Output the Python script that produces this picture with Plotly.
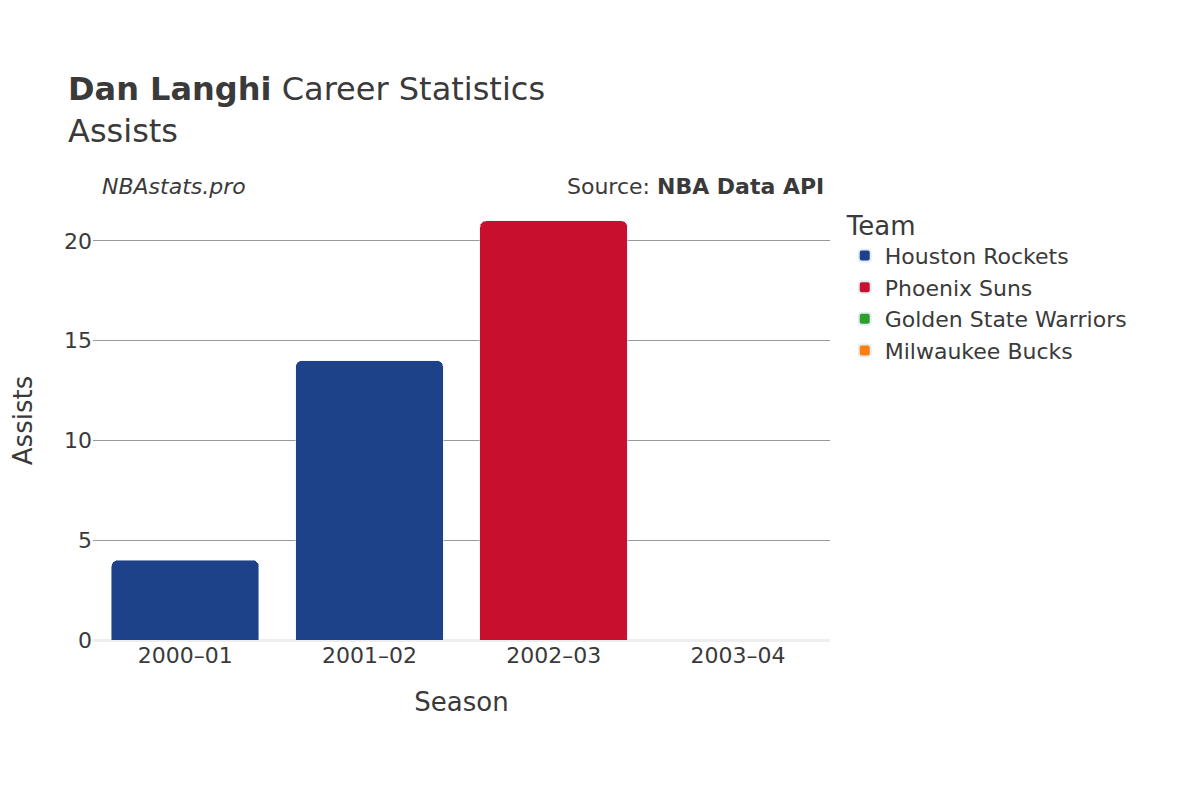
import plotly.graph_objects as go

seasons = ["2000–01", "2001–02", "2002–03", "2003–04"]
teams = ["Houston Rockets", "Phoenix Suns", "Golden State Warriors", "Milwaukee Bucks"]
colors = ["#1d428a", "#c8102e", "#2ca02c", "#ff7f0e"]
values = {
    "Houston Rockets": [4, 14, None, None],
    "Phoenix Suns": [None, None, 21, None],
    "Golden State Warriors": [None, None, None, 0],
    "Milwaukee Bucks": [None, None, None, 0],
}

fig = go.Figure()
for t, c in zip(teams, colors):
    fig.add_trace(go.Bar(x=seasons, y=values[t], name=t, marker_color=c))

fig.update_layout(
    width=1200, height=800, barmode="stack", barcornerradius=6, bargap=0.2,
    plot_bgcolor="white", paper_bgcolor="white",
    font=dict(family="DejaVu Sans", color="#3a3a3a", size=22),
    margin=dict(l=85, r=378, t=193, b=168),
    title=dict(text="<b>Dan Langhi</b> Career Statistics<br>Assists", x=0.05, xanchor="left",
               y=0.885, yanchor="bottom", font=dict(size=32)),
    xaxis=dict(title=dict(text="Season", font=dict(size=26), standoff=25), showgrid=False,
               tickfont=dict(size=22)),
    yaxis=dict(title=dict(text="Assists", font=dict(size=26), standoff=25), range=[0, 22],
               gridcolor="#999", dtick=5, zeroline=True, zerolinecolor="#eee",
               zerolinewidth=3, tickfont=dict(size=22)),
    legend=dict(title=dict(text="Team", font=dict(size=26)), x=1.02, y=1.0,
                yanchor="top", font=dict(size=22), traceorder="normal",
                itemsizing="constant", tracegroupgap=8),
    annotations=[
        dict(text="<i>NBAstats.pro</i>", x=0.01, y=1.0, xref="paper", yref="paper",
             xanchor="left", yanchor="bottom", showarrow=False, font=dict(size=22)),
        dict(text="Source: <b>NBA Data API</b>", x=0.995, y=1.0, xref="paper", yref="paper",
             xanchor="right", yanchor="bottom", showarrow=False, font=dict(size=22)),
    ],
)
fig.write_html("out.html")
